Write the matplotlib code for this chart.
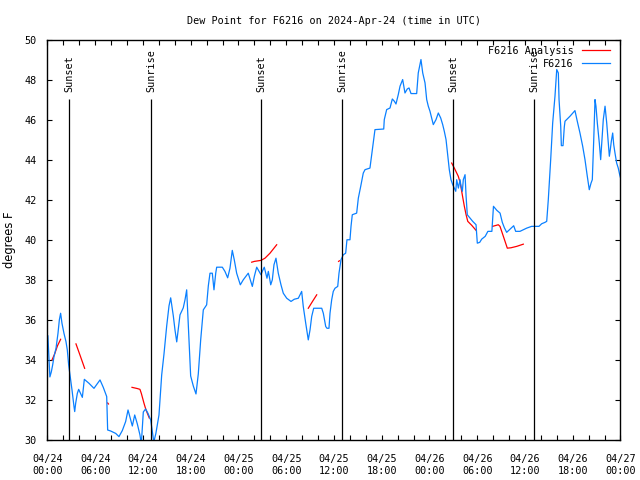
import matplotlib
matplotlib.use("Agg")
import matplotlib.pyplot as plt
import numpy as np

# 时间：从 04/24 00:00 UTC 起的小时数；数值：露点（华氏度）
obs_hours = [0.05, 0.3, 0.48, 0.65, 0.82, 1.07, 1.32, 1.49, 1.65, 1.82, 2.07, 2.32, 2.49, 2.66,
             2.83, 3.08, 3.33, 3.42, 3.54, 3.75, 3.92, 4.25, 4.38, 4.63, 5.22, 5.84, 6.6, 7.01,
             7.44, 7.56, 7.94, 8.57, 8.98, 9.4, 9.82, 10.12, 10.45, 10.66, 10.96, 11.29, 11.62,
             11.79, 12.04, 12.33, 12.63, 12.97, 13.17, 13.36, 13.62, 14.01, 14.14, 14.35, 14.64,
             14.98, 15.27, 15.48, 15.81, 16.02, 16.24, 16.65, 17.06, 17.28, 17.49, 17.62, 17.78,
             17.99, 18.32, 18.66, 18.95, 19.25, 19.58, 20.0, 20.21, 20.42, 20.71, 20.92, 21.14,
             21.26, 21.97, 22.3, 22.64, 22.93, 23.22, 23.47, 23.77, 24.23, 24.6, 25.23, 25.48,
             25.74, 25.99, 26.29, 26.58, 26.83, 26.99, 27.24, 27.42, 27.58, 27.75, 27.87, 28.05,
             28.25, 28.46, 28.71, 29.0, 29.34, 29.63, 30.06, 30.6, 31.01, 31.52, 31.94, 32.14,
             32.45, 32.65, 32.77, 32.99, 33.2, 33.45, 34.46, 34.66, 34.96, 35.12, 35.37, 35.5,
             35.71, 35.91, 36.13, 36.47, 36.63, 36.88, 37.17, 37.47, 37.63, 38.01, 38.14, 38.3,
             38.85, 39.06, 39.36, 39.68, 39.9, 40.52, 40.74, 40.94, 41.15, 42.25, 42.32, 42.62,
             43.04, 43.33, 43.58, 43.79, 44.08, 44.3, 44.63, 44.92, 45.21, 45.43, 45.68, 46.39,
             46.59, 46.93, 47.15, 47.44, 47.65, 47.85, 48.06, 48.48, 48.82, 49.11, 49.41, 49.66,
             49.86, 50.08, 50.29, 50.49, 50.7, 50.92, 51.12, 51.3, 51.42, 51.63, 51.84, 51.96,
             52.13, 52.25, 52.47, 52.6, 52.75, 53.1, 53.43, 53.85, 54.01, 54.31, 54.56, 55.0,
             55.34, 55.84, 56.04, 56.46, 56.87, 57.15, 57.41, 57.7, 58.12, 58.58, 58.83, 59.37,
             59.79, 60.21, 60.84, 61.76, 62.1, 62.52, 62.73, 62.93, 63.23, 63.48, 63.77, 63.99,
             64.19, 64.28, 64.49, 64.57, 64.78, 64.94, 65.03, 65.66, 66.28, 66.57, 66.91, 67.25,
             67.54, 67.83, 68.08, 68.3, 68.46, 68.64, 68.8, 68.92, 69.09, 69.34, 69.51, 69.68,
             69.84, 70.06, 70.27, 70.47, 70.6, 70.72, 70.85, 71.02, 71.15, 71.31, 71.52, 71.72,
             71.9, 72.0]
obs_dewpt = [35.2, 33.15, 33.4, 33.75, 34.17, 34.58, 35.33, 36.0, 36.33, 35.83, 35.33, 34.92, 34.5, 33.75,
             33.25, 32.5, 31.67, 31.42, 31.83, 32.33, 32.53, 32.25, 32.13, 33.03, 32.83, 32.58, 33.0, 32.63,
             32.17, 30.5, 30.45, 30.33, 30.17, 30.47, 30.92, 31.5, 31.0, 30.7, 31.25, 30.8, 30.25,
             29.8, 31.4, 31.55, 31.33, 31.0, 30.42, 29.9, 30.33, 31.25, 32.0, 33.25, 34.3,
             35.7, 36.7, 37.1, 36.2, 35.5, 34.9, 36.25, 36.6, 37.0, 37.5, 36.4, 35.0,
             33.2, 32.7, 32.3, 33.3, 35.0, 36.5, 36.75, 37.7, 38.33, 38.33, 37.5, 38.33,
             38.63, 38.63, 38.42, 38.1, 38.58, 39.47, 39.0, 38.33, 37.75, 38.0, 38.33, 38.0,
             37.67, 38.17, 38.63, 38.42, 38.25, 38.42, 38.63, 38.33, 38.08, 38.42, 38.17, 37.75,
             38.0, 38.75, 39.08, 38.33, 37.75, 37.33, 37.08, 36.92, 37.03, 37.08, 37.42, 36.67,
             35.83, 35.33, 35.0, 35.5, 36.17, 36.58, 36.58, 36.33, 35.67, 35.58, 35.58, 36.33,
             37.0, 37.42, 37.58, 37.67, 38.33, 39.0, 39.25, 39.33, 40.0, 40.0, 40.67, 41.25,
             41.33, 42.08, 42.67, 43.33, 43.5, 43.58, 44.25, 44.83, 45.5, 45.53, 46.0, 46.5,
             46.58, 47.03, 46.92, 46.78, 47.25, 47.67, 48.0, 47.33, 47.53, 47.58, 47.3, 47.3,
             48.33, 49.0, 48.33, 47.83, 47.0, 46.67, 46.42, 45.75, 46.0, 46.33, 46.08, 45.75,
             45.42, 45.0, 44.25, 43.5, 43.0, 42.75, 42.58, 42.42, 43.0, 42.58, 43.0, 42.67,
             42.42, 43.0, 43.25, 42.17, 41.25, 41.08, 40.92, 40.75, 39.83, 39.87, 40.03, 40.17,
             40.42, 40.42, 41.67, 41.47, 41.33, 40.87, 40.6, 40.37, 40.53, 40.7, 40.42, 40.42,
             40.5, 40.58, 40.67, 40.67, 40.8, 40.87, 40.92, 42.0, 44.0, 45.83, 47.17, 48.5,
             48.33, 47.0, 45.67, 44.7, 44.7, 45.63, 45.92, 46.17, 46.45, 45.92, 45.33, 44.67,
             44.0, 43.17, 42.5, 42.83, 43.0, 45.0, 47.0, 46.67, 45.83, 44.83, 44.0, 45.0,
             46.0, 46.67, 45.83, 44.83, 44.17, 44.5, 44.92, 45.33, 44.75, 44.33, 43.83, 43.58,
             43.25, 43.1]

nan = np.nan
ana_hours = [0.57, 0.9, 1.25, 1.65, nan,
             3.58, 4.12, 4.67, nan,
             7.56, 7.66, nan,
             10.62, 11.29, 11.62, 11.79, 12.13, 12.38, 12.79, nan,
             25.66, 26.0, 26.83, 27.33, 27.96, 28.3, 28.8, nan,
             32.77, 33.3, 33.83, nan,
             36.58, 36.68, nan,
             50.79, 51.12, 51.62, 51.87, 52.12, 52.38, 52.6, 52.81, 53.31, 53.85, nan,
             55.94, 56.65, 56.86, 57.36, 57.78, 58.24, 58.96, 59.79]
ana_dewpt = [34.0, 34.3, 34.7, 35.03, nan,
             34.8, 34.2, 33.58, nan,
             31.85, 31.8, nan,
             32.63, 32.57, 32.53, 32.33, 31.83, 31.5, 31.1, nan,
             38.88, 38.92, 38.97, 39.08, 39.33, 39.5, 39.75, nan,
             36.58, 36.92, 37.25, nan,
             38.92, 38.95, nan,
             43.83, 43.58, 43.17, 42.83, 42.25, 41.67, 41.25, 40.92, 40.72, 40.47, nan,
             40.67, 40.75, 40.67, 40.08, 39.58, 39.6, 39.67, 39.78]

sunset_hours = [2.75, 26.85, 50.95]
sunrise_hours = [13.05, 37.05, 61.15]

tick_hours = [0, 6, 12, 18, 24, 30, 36, 42, 48, 54, 60, 66, 72]
tick_labels = ["04/24\n00:00", "04/24\n06:00", "04/24\n12:00", "04/24\n18:00",
               "04/25\n00:00", "04/25\n06:00", "04/25\n12:00", "04/25\n18:00",
               "04/26\n00:00", "04/26\n06:00", "04/26\n12:00", "04/26\n18:00",
               "04/27\n00:00"]
y_ticks = [30, 32, 34, 36, 38, 40, 42, 44, 46, 48, 50]

plt.rcParams['font.family'] = ['DejaVu Sans Mono']
fs = 7.3

fig = plt.figure(figsize=(6.4, 4.8), dpi=100)
ax = fig.add_axes([0.0742, 0.0833, 0.8953, 0.8344])

ax.plot(ana_hours, ana_dewpt, color='red', lw=0.9, label='F6216 Analysis')
ax.plot(obs_hours, obs_dewpt, color='#0a80ff', lw=0.9, label='F6216')

# 日出日落竖线
for h in sunset_hours:
    ax.vlines(h, 30, 47.05, color='black', lw=0.9)
    ax.text(h, 47.4, 'Sunset', rotation=90, ha='center', va='bottom', fontsize=fs)
for h in sunrise_hours:
    ax.vlines(h, 30, 47.05, color='black', lw=0.9)
    ax.text(h, 47.4, 'Sunrise', rotation=90, ha='center', va='bottom', fontsize=fs)

ax.set_xlim(0, 72)
ax.set_ylim(30, 50)
ax.set_xticks(tick_hours, tick_labels)
ax.set_xticks(range(0, 73, 2), minor=True)
ax.set_yticks(y_ticks, [str(v) for v in y_ticks])
ax.tick_params(axis='both', which='both', direction='in', top=True, right=True,
               length=3.6, width=0.8, labelsize=fs)
ax.tick_params(axis='x', which='major', pad=10)
ax.tick_params(axis='y', which='major', pad=8)
for s in ax.spines.values():
    s.set_linewidth(1.0)

ax.set_title('Dew Point for F6216 on 2024-Apr-24 (time in UTC)', fontsize=fs, pad=11)
ax.set_ylabel('degrees F', fontsize=8.3, family='DejaVu Sans', labelpad=6)

ax.legend(loc='upper right', bbox_to_anchor=(0.993, 1.0), frameon=False, markerfirst=False,
          fontsize=fs, handlelength=2.8, handletextpad=0.8, labelspacing=0.3,
          borderpad=0.2, borderaxespad=0.4)

plt.savefig('out.png', dpi=100)
